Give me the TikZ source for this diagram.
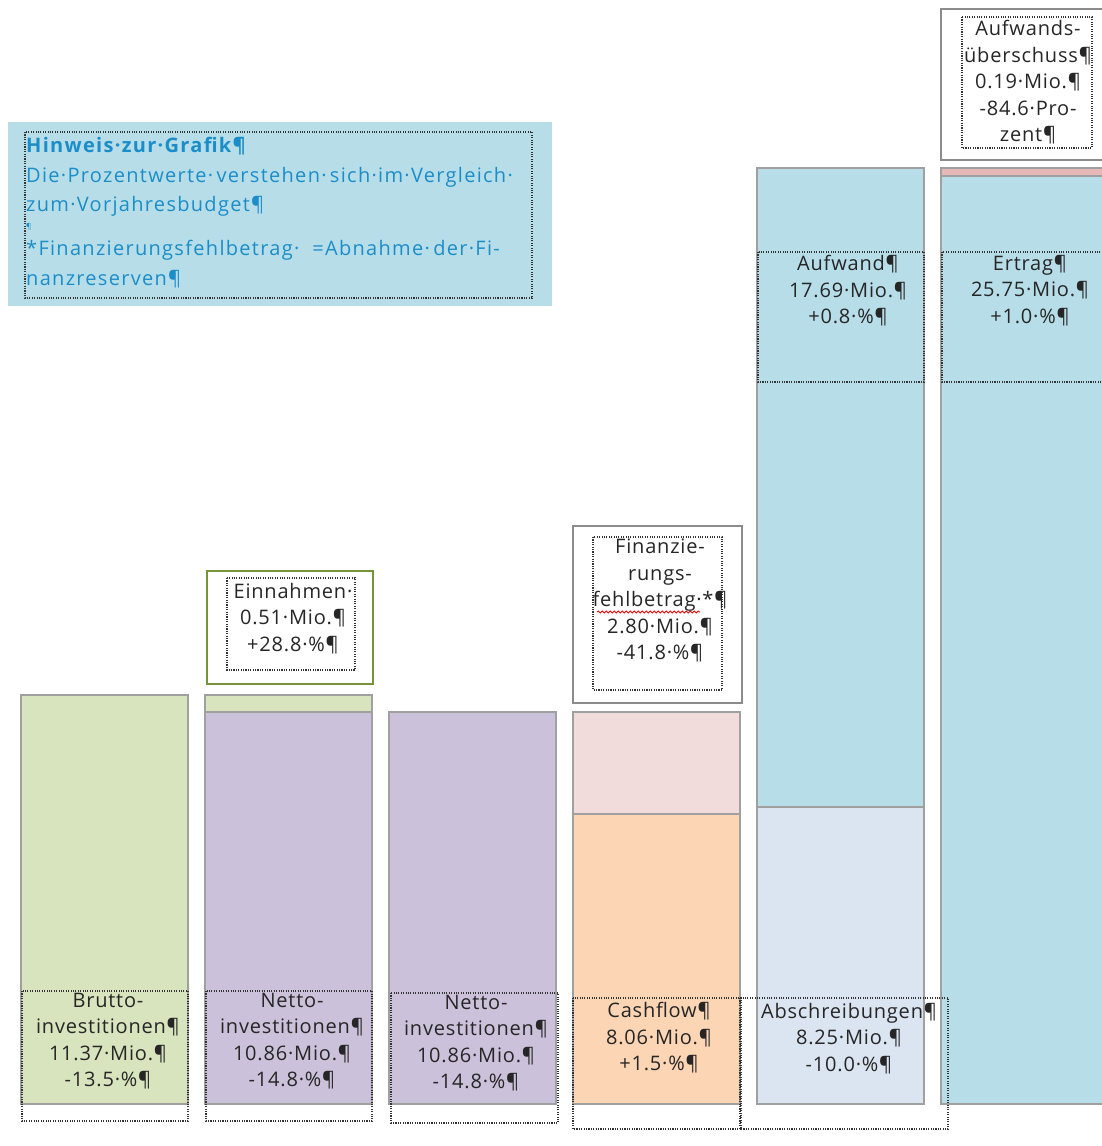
\documentclass[tikz,border=0pt]{standalone}
\usepackage{fontspec}
\setmainfont{Open Sans}
\newfontfamily\lblfont{Open Sans}[LetterSpace=4]
\newfontfamily\notefont{Open Sans}[LetterSpace=6.5]
\usetikzlibrary{decorations.pathmorphing}
\definecolor{cGreen}{HTML}{D7E4BD}
\definecolor{cPurple}{HTML}{CCC1DA}
\definecolor{cPink}{HTML}{F2DCDB}
\definecolor{cOrange}{HTML}{FCD5B5}
\definecolor{cBlue}{HTML}{B7DEE8}
\definecolor{cPale}{HTML}{DBE5F1}
\definecolor{cRed}{HTML}{E6B9B8}
\definecolor{cBorder}{HTML}{A0A0A0}
\definecolor{cOlive}{HTML}{77933C}
\definecolor{cCallout}{HTML}{8C8C8C}
\definecolor{cNote}{HTML}{1B8DC9}
\definecolor{cDots}{HTML}{333333}
\tikzset{
  bar/.style={draw=cBorder, line width=1.4pt},
  callout/.style={draw=cCallout, line width=1.2pt, fill=white},
  dotbox/.style={draw=cDots, line width=1.1pt, dash pattern=on 1.1pt off 1.3pt},
  lbl/.style={font=\lblfont\fontsize{20}{26.5}\selectfont, align=center, inner sep=0pt, anchor=north, text=black!85},
}
\begin{document}
\begin{tikzpicture}[x=1pt,y=-1pt]
\useasboundingbox (0,0) rectangle (1102,1146);
\clip (0,0) rectangle (1102,1146);

% ---------- note box ----------
\fill[cBlue] (8,122) rectangle (552,306);
\draw[dotbox] (25,132) rectangle (532,298);
\node[inner sep=0pt, anchor=north west, align=left, text=cNote,
      font=\notefont\fontsize{20}{29.5}\selectfont] (note) at (26,137)
  {{\bfseries Hinweis·zur·Grafik¶}\\
   Die·Prozentwerte·\,verstehen·\,sich·im·Vergleich·\\
   zum·Vorjahresbudget¶\\[-12pt]
   {\fontsize{8}{8}\selectfont ¶}\\[-3pt]
   *Finanzierungsfehlbetrag·\ \ =Abnahme·\,der·Fi-\\
   nanzreserven¶};

% ---------- bars ----------
\draw[bar, fill=cGreen] (21,695) rectangle (188,1104);
\draw[bar, fill=cGreen] (205,695) rectangle (372,712);
\draw[bar, fill=cPurple] (205,712) rectangle (372,1104);
\draw[bar, fill=cPurple] (389,712) rectangle (556,1104);
\draw[bar, fill=cPink] (573,712) rectangle (740,814);
\draw[bar, fill=cOrange] (573,814) rectangle (740,1104);
\draw[bar, fill=cBlue] (757,168) rectangle (924,807);
\draw[bar, fill=cPale] (757,807) rectangle (924,1104);
\draw[bar, fill=cRed] (941,168) rectangle (1112,176);
\draw[bar, fill=cBlue] (941,176) rectangle (1112,1104);

% ---------- callouts ----------
\draw[callout, draw=cOlive] (207,571) rectangle (373,684);
\draw[dotbox] (227,578) rectangle (355,670);
\node[lbl] (einnahmen) at (293,583)
  {Einnahmen·\\0.51·Mio.¶\\+28.8·\%¶};

\draw[callout] (573,526) rectangle (742,703);
\draw[dotbox] (593,537) rectangle (722,690);
\node[lbl] (finanz) at (660,539)
  {Finanzie-\\rungs-\\fehlbetrag·*¶\\2.80·Mio.¶\\-41.8·\%¶};
\draw[red, line width=0.8pt, decorate,
      decoration={snake, amplitude=1.1pt, segment length=4pt}]
  (597,612) -- (700,612);

\draw[callout] (941,9) rectangle (1112,160);
\draw[dotbox] (962,17) rectangle (1092,148);
\node[lbl] (ueberschuss) at (1028,20)
  {Aufwands-\\überschuss¶\\0.19·Mio.¶\\-84.6·Pro-\\zent¶};

% ---------- labels on bars ----------
\draw[dotbox] (758,252) rectangle (924,382);
\node[lbl] (aufwand) at (848,255) {Aufwand¶\\17.69·Mio.¶\\+0.8·\%¶};

\draw[dotbox] (942,252) rectangle (1112,382);
\node[lbl] (ertrag) at (1030,255) {Ertrag¶\\25.75·Mio.¶\\+1.0·\%¶};

\draw[dotbox] (22,991) rectangle (188,1121);
\node[lbl] (brutto) at (108,993) {Brutto-\\investitionen¶\\11.37·Mio.¶\\-13.5·\%¶};

\draw[dotbox] (206,991) rectangle (372,1121);
\node[lbl] (netto1) at (292,993) {Netto-\\investitionen¶\\10.86·Mio.¶\\-14.8·\%¶};

\draw[dotbox] (391,993) rectangle (558,1123);
\node[lbl] (netto2) at (476,995) {Netto-\\investitionen¶\\10.86·Mio.¶\\-14.8·\%¶};

\draw[dotbox] (573,998) rectangle (741,1129);
\node[lbl] (cashflow) at (659,1002) {Cashflow¶\\8.06·Mio.¶\\+1.5·\%¶};

\draw[dotbox] (740,998) rectangle (948,1129);
\node[lbl] (abschr) at (849,1003) {Abschreibungen¶\\8.25·Mio.¶\\-10.0·\%¶};
\end{tikzpicture}
\end{document}
